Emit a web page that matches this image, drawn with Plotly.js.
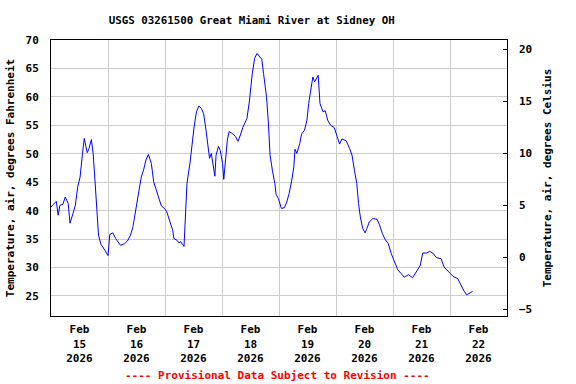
<!DOCTYPE html>
<html>
<head>
<meta charset="utf-8">
<script src="https://cdn.plot.ly/plotly-3.0.1.min.js"></script>
<style>html,body{margin:0;padding:0;background:#fff;}#chart{width:576px;height:384px;}</style>
</head>
<body>
<div id="chart"></div>
<script>
const times = [
"2026-02-15 00:00","2026-02-15 02:15","2026-02-15 03:00","2026-02-15 03:45","2026-02-15 05:00","2026-02-15 06:00",
"2026-02-15 07:15","2026-02-15 08:00","2026-02-15 09:15","2026-02-15 10:15","2026-02-15 11:15","2026-02-15 12:15",
"2026-02-15 13:15","2026-02-15 14:00","2026-02-15 15:15","2026-02-15 16:00","2026-02-15 17:00","2026-02-15 17:45",
"2026-02-15 18:30","2026-02-15 19:15","2026-02-15 20:00","2026-02-15 21:00","2026-02-15 21:45","2026-02-15 22:45",
"2026-02-16 00:00","2026-02-16 00:45","2026-02-16 02:00","2026-02-16 03:15","2026-02-16 05:15","2026-02-16 07:00",
"2026-02-16 08:15","2026-02-16 09:30","2026-02-16 10:30","2026-02-16 11:30","2026-02-16 12:30","2026-02-16 14:00",
"2026-02-16 15:00","2026-02-16 16:00","2026-02-16 17:00","2026-02-16 18:15","2026-02-16 19:15","2026-02-16 20:15",
"2026-02-16 21:15","2026-02-16 22:30","2026-02-16 23:45",
"2026-02-17 00:45","2026-02-17 02:00","2026-02-17 03:15","2026-02-17 03:45","2026-02-17 05:00","2026-02-17 06:00",
"2026-02-17 06:30","2026-02-17 08:00","2026-02-17 08:30","2026-02-17 09:15","2026-02-17 10:30","2026-02-17 11:15",
"2026-02-17 12:15","2026-02-17 13:15","2026-02-17 14:15","2026-02-17 15:15","2026-02-17 16:15","2026-02-17 17:15",
"2026-02-17 18:00","2026-02-17 18:45","2026-02-17 19:30","2026-02-17 20:15","2026-02-17 21:00","2026-02-17 21:30",
"2026-02-17 22:30","2026-02-17 23:15",
"2026-02-18 00:15","2026-02-18 00:45","2026-02-18 01:30","2026-02-18 02:15","2026-02-18 03:00","2026-02-18 04:15",
"2026-02-18 05:45","2026-02-18 06:45","2026-02-18 07:45","2026-02-18 08:45","2026-02-18 10:30","2026-02-18 11:30",
"2026-02-18 12:45","2026-02-18 13:45","2026-02-18 14:45","2026-02-18 15:45","2026-02-18 16:45","2026-02-18 17:30",
"2026-02-18 18:45","2026-02-18 19:30","2026-02-18 20:15","2026-02-18 21:15","2026-02-18 22:15","2026-02-18 22:45",
"2026-02-18 23:45",
"2026-02-19 01:00","2026-02-19 02:15","2026-02-19 03:15","2026-02-19 04:15","2026-02-19 05:15","2026-02-19 06:15",
"2026-02-19 06:45","2026-02-19 07:30","2026-02-19 08:45","2026-02-19 09:30","2026-02-19 10:45","2026-02-19 11:45",
"2026-02-19 12:30","2026-02-19 13:30","2026-02-19 14:15","2026-02-19 15:00","2026-02-19 16:30","2026-02-19 17:15",
"2026-02-19 18:30","2026-02-19 19:30","2026-02-19 20:30","2026-02-19 21:45","2026-02-19 23:15",
"2026-02-20 00:30","2026-02-20 01:30","2026-02-20 02:30","2026-02-20 04:15","2026-02-20 05:45","2026-02-20 06:45",
"2026-02-20 07:45","2026-02-20 08:45","2026-02-20 09:30","2026-02-20 10:15","2026-02-20 11:15","2026-02-20 12:15",
"2026-02-20 13:00","2026-02-20 14:00","2026-02-20 15:30","2026-02-20 17:15","2026-02-20 18:15","2026-02-20 19:30",
"2026-02-20 20:45","2026-02-20 22:00","2026-02-20 23:15",
"2026-02-21 00:30","2026-02-21 02:00","2026-02-21 03:30","2026-02-21 04:45","2026-02-21 06:30","2026-02-21 08:15",
"2026-02-21 09:45","2026-02-21 11:30","2026-02-21 12:30","2026-02-21 14:15","2026-02-21 15:30","2026-02-21 17:00",
"2026-02-21 18:15","2026-02-21 20:15","2026-02-21 21:30","2026-02-21 23:30",
"2026-02-22 01:15","2026-02-22 03:15","2026-02-22 04:30","2026-02-22 06:00","2026-02-22 07:00","2026-02-22 08:30",
"2026-02-22 09:30"
];
const tempF = [
40.65,41.65,39.2,40.95,41.1,42.4,
41.25,37.8,39.5,40.95,44.2,45.9,
50.05,52.7,50.2,50.9,52.5,50.0,
45.4,40.1,35.7,34.1,33.7,33.0,
32.1,35.8,36.1,35.1,33.9,34.2,
34.7,35.7,37.2,39.8,42.1,45.9,
47.2,48.9,49.9,48.3,45.05,43.9,
42.4,40.8,40.4,
39.8,38.3,36.55,35.1,34.8,34.3,
34.6,33.7,38.3,44.8,48.3,51.2,
54.7,57.4,58.4,58.0,57.1,54.2,
51.2,49.2,50.05,48.3,46.05,49.75,
51.3,50.6,
48.3,45.5,49.75,52.4,53.9,53.6,
53.0,52.2,53.3,54.6,56.2,59.1,
64.1,66.8,67.65,67.2,66.6,64.1,
60.0,55.6,49.75,47.0,44.8,42.9,
42.1,
40.4,40.5,41.5,43.0,45.05,47.7,
50.8,50.05,51.8,53.45,54.15,55.9,
58.85,61.2,63.5,62.65,63.8,58.85,
57.4,57.55,55.9,55.0,54.6,
53.0,51.7,52.6,52.3,50.9,49.75,
47.1,44.8,41.25,38.9,36.85,36.1,
36.85,38.0,38.6,38.5,37.6,36.0,
34.9,34.2,32.45,
31.0,29.6,28.9,28.3,28.75,28.2,
29.2,30.4,32.55,32.55,32.85,32.45,
31.75,31.55,30.1,29.2,
28.45,28.05,26.9,25.8,25.2,25.5,
25.8
];
const leftTicks = [25,30,35,40,45,50,55,60,65,70];
const rightTicks = [-5,0,5,10,15,20];
const titleText = "USGS 03261500 Great Miami River at Sidney OH";
const leftTitle = "Temperature, air, degrees Fahrenheit";
const rightTitle = "Temperature, air, degrees Celsius";
const noteText = "---- Provisional Data Subject to Revision ----";

const FONT = "DejaVu Sans Mono, Liberation Mono, monospace";
const f = (size, color) => ({family: FONT, size: size, color: color || "#000", weight: "bold"});

const data = [
  {x: times, y: tempF, type: "scatter", mode: "lines", line: {color: "#0000ff", width: 1}, hoverinfo: "none", showlegend: false},
  {x: [], y: [], yaxis: "y2", type: "scatter", mode: "lines", showlegend: false}
];

const layout = {
  width: 576, height: 384,
  margin: {l: 51, r: 69, t: 40, b: 68, pad: 0},
  paper_bgcolor: "#fff", plot_bgcolor: "#fff",
  showlegend: false,
  title: {text: titleText, font: f(10.8), x: 0.437, xanchor: "center", y: 1 - 20/384, yanchor: "middle"},
  xaxis: {
    type: "date",
    range: ["2026-02-15 00:00", "2026-02-23 00:00"],
    dtick: 86400000, tick0: "2026-02-15",
    ticklabelmode: "period",
    tickformat: "%b<br>%d<br>%Y",
    ticks: "", showgrid: true, gridcolor: "#cccccc", gridwidth: 1,
    showline: true, linecolor: "#000", linewidth: 1, mirror: true,
    zeroline: false, tickfont: f(11), ticklabelstandoff: 3
  },
  yaxis: {
    range: [21.48, 70],
    tickvals: leftTicks,
    ticks: "", showgrid: true, gridcolor: "#cccccc", gridwidth: 1,
    showline: true, linecolor: "#000", linewidth: 1, mirror: true,
    zeroline: false, tickfont: f(11), ticklabelstandoff: 9,
    title: {text: leftTitle, font: f(11), standoff: 8}
  },
  yaxis2: {
    overlaying: "y", side: "right",
    range: [-5.61, 20.87],
    tickvals: rightTicks,
    ticks: "inside", ticklen: 4, tickcolor: "#000",
    showgrid: false, zeroline: false, showline: false,
    tickfont: f(11), ticklabelstandoff: 11,
    title: {text: rightTitle, font: f(11), standoff: 12}
  },
  annotations: [
    {text: noteText, xref: "paper", yref: "paper", x: 0.497, y: (316-375)/276, xanchor: "center", yanchor: "middle",
     showarrow: false, font: f(11, "#ff0000")}
  ]
};

Plotly.newPlot("chart", data, layout, {staticPlot: true, displayModeBar: false});
</script>
</body>
</html>
